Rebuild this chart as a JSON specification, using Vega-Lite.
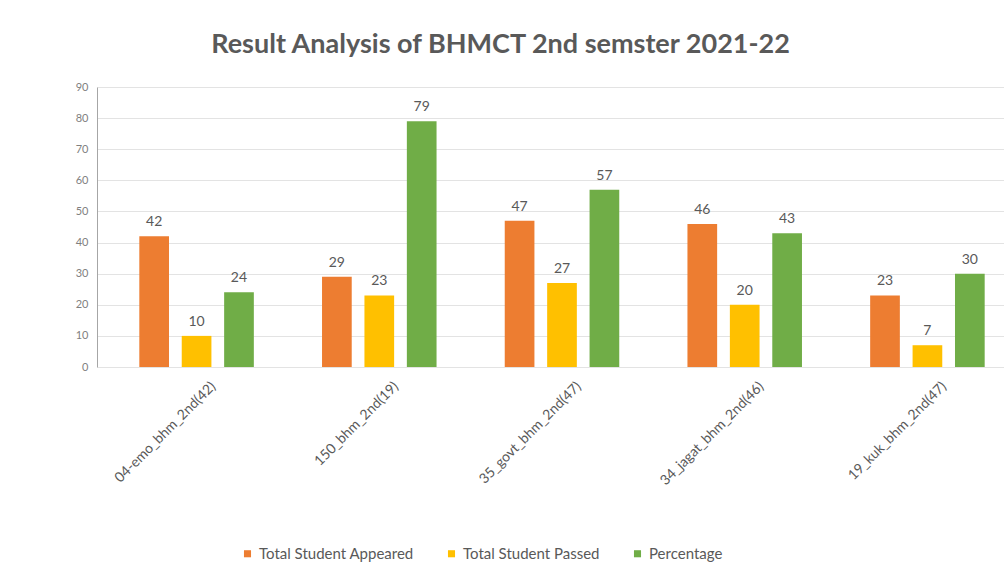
{
  "$schema": "https://vega.github.io/schema/vega-lite/v6.json",
  "width": 930,
  "height": 280,
  "autosize": {"type": "none"},
  "padding": {"left": 97, "top": 87, "right": 0, "bottom": 215},
  "background": "white",
  "title": {
    "text": "Result Analysis of BHMCT 2nd semster  2021-22",
    "fontSize": 27,
    "font": "Lato",
    "fontWeight": "bold",
    "color": "#595959",
    "anchor": "start",
    "dx": 136,
    "offset": 22
  },
  "data": {
    "values": [
      {"college": "04-emo_bhm_2nd(42)", "series": "Total Student Appeared", "value": 42},
      {"college": "04-emo_bhm_2nd(42)", "series": "Total Student Passed", "value": 10},
      {"college": "04-emo_bhm_2nd(42)", "series": "Percentage", "value": 24},
      {"college": "150_bhm_2nd(19)", "series": "Total Student Appeared", "value": 29},
      {"college": "150_bhm_2nd(19)", "series": "Total Student Passed", "value": 23},
      {"college": "150_bhm_2nd(19)", "series": "Percentage", "value": 79},
      {"college": "35_govt_bhm_2nd(47)", "series": "Total Student Appeared", "value": 47},
      {"college": "35_govt_bhm_2nd(47)", "series": "Total Student Passed", "value": 27},
      {"college": "35_govt_bhm_2nd(47)", "series": "Percentage", "value": 57},
      {"college": "34_jagat_bhm_2nd(46)", "series": "Total Student Appeared", "value": 46},
      {"college": "34_jagat_bhm_2nd(46)", "series": "Total Student Passed", "value": 20},
      {"college": "34_jagat_bhm_2nd(46)", "series": "Percentage", "value": 43},
      {"college": "19_kuk_bhm_2nd(47)", "series": "Total Student Appeared", "value": 23},
      {"college": "19_kuk_bhm_2nd(47)", "series": "Total Student Passed", "value": 7},
      {"college": "19_kuk_bhm_2nd(47)", "series": "Percentage", "value": 30}
    ]
  },
  "encoding": {
    "x": {
      "field": "college",
      "type": "nominal",
      "sort": null,
      "scale": {"paddingInner": 0.35, "paddingOuter": 0.22},
      "axis": {
        "title": null,
        "labelAngle": -45,
        "labelColor": "#595959",
        "labelFontSize": 14,
        "labelFont": "Lato",
        "labelOffset": 12,
        "domain": false,
        "ticks": false,
        "labelPadding": 12
      }
    },
    "xOffset": {
      "field": "series",
      "type": "nominal",
      "sort": ["Total Student Appeared", "Total Student Passed", "Percentage"],
      "scale": {"paddingInner": 0.3, "paddingOuter": 0.05}
    },
    "y": {
      "field": "value",
      "type": "quantitative",
      "scale": {"domain": [0, 90]},
      "axis": {
        "title": null,
        "values": [0, 10, 20, 30, 40, 50, 60, 70, 80, 90],
        "labelColor": "#7f7f7f",
        "labelFontSize": 11,
        "labelFont": "Lato",
        "gridColor": "#e3e3e3",
        "domain": true,
        "domainColor": "#a6a6a6",
        "ticks": false,
        "labelPadding": 9
      }
    }
  },
  "layer": [
    {
      "mark": {"type": "bar"},
      "encoding": {
        "color": {
          "field": "series",
          "type": "nominal",
          "scale": {
            "domain": ["Total Student Appeared", "Total Student Passed", "Percentage"],
            "range": ["#ED7D31", "#FFC000", "#70AD47"]
          },
          "legend": {
            "title": null,
            "orient": "none",
            "direction": "horizontal",
            "legendX": 143,
            "legendY": 459,
            "symbolType": "square",
            "symbolSize": 50,
            "symbolStrokeWidth": 0,
            "labelColor": "#595959",
            "labelFontSize": 15,
            "labelFont": "Lato",
            "labelOffset": 4,
            "columnPadding": 30
          }
        }
      }
    },
    {
      "mark": {"type": "text", "dy": -14, "fontSize": 14, "color": "#595959", "font": "Lato"},
      "encoding": {
        "text": {"field": "value", "type": "quantitative"}
      }
    }
  ],
  "config": {"view": {"stroke": null}}
}
